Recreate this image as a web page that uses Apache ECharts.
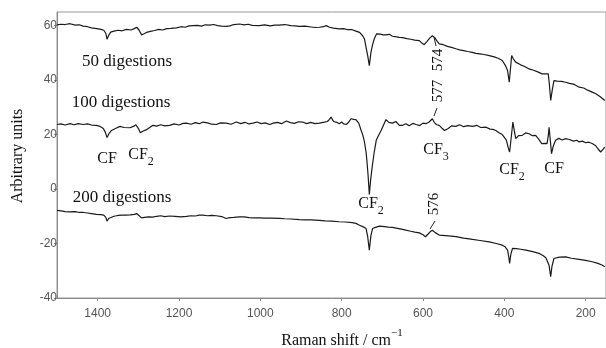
<!DOCTYPE html>
<html>
<head>
<meta charset="utf-8">
<script src="https://cdn.jsdelivr.net/npm/echarts@6/dist/echarts.min.js"></script>
<style>
html,body{margin:0;padding:0;background:#fff;}
#chart{width:606px;height:348px;}
</style>
</head>
<body>
<div id="chart"></div>
<script>
// ---- data (Raman shift in cm-1, arbitrary units) ----
var xTicks = [1400, 1200, 1000, 800, 600, 400, 200];
var yTicks = [-40, -20, 0, 20, 40, 60];

var wn50 = [1500,1490,1480,1468,1455,1445,1436,1425,1415,1402,1392,1385,1380,1377,1373,1368,1360,1350,1340,1329,1318,1310,1304,1298,1292,1286,1280,1270,1260,1250,1240,1230,1220,1206,1195,1185,1175,1166,1155,1145,1135,1125,1115,1105,1095,1084,1075,1065,1051,1040,1030,1020,1002,990,975,965,953,940,925,915,904,890,875,865,855,845,838,830,820,806,795,785,774,765,756,748,744,740,736,732,728,724,720,714,705,698,691,683,675,665,658,650,640,630,620,609,602,597,590,583,577,571,565,560,550,540,530,519,510,500,490,479,470,460,450,437,425,415,405,398,392,388,385,382,378,372,360,350,339,328,318,307,298,292,289,286,282,278,270,260,249,240,228,216,205,195,184,175,165,153];
var val50 = [60.3,60.5,60.4,60.7,60.2,60.3,59.8,59.6,59.2,58.9,58.6,58.3,57.2,55.0,56.4,57.6,58.0,58.3,58.1,58.6,58.4,58.9,59.4,58.3,56.6,57.0,57.5,57.9,58.2,58.6,58.4,58.9,59.0,59.2,59.6,59.4,59.9,60.0,60.1,59.8,60.3,60.2,60.4,60.0,59.8,59.7,59.9,60.4,60.6,60.3,60.5,60.1,60.0,60.3,59.9,60.2,60.2,60.4,60.0,59.9,59.7,59.8,59.5,59.3,59.4,59.6,60.0,59.4,59.1,58.8,58.9,58.5,58.5,58.0,57.5,56.2,55.1,52.0,49.0,45.3,50.2,53.0,55.1,57.0,56.9,56.6,56.6,56.8,56.1,55.9,55.7,55.6,55.2,55.0,54.7,54.5,53.5,53.0,54.2,55.5,56.3,55.6,54.2,53.3,53.0,52.4,52.0,51.5,51.1,50.8,50.5,50.2,49.8,49.6,49.4,49.0,48.5,48.0,47.2,45.5,43.5,39.2,44.0,49.0,47.8,46.6,45.6,45.0,44.1,43.6,43.0,42.3,42.3,42.3,38.0,32.5,36.5,39.8,39.6,39.5,39.2,38.8,38.4,37.4,37.1,36.3,35.6,35.0,34.0,32.5];

var wn100 = [1500,1490,1480,1468,1458,1448,1435,1425,1415,1403,1394,1386,1381,1377,1372,1366,1355,1345,1335,1321,1312,1306,1303,1299,1295,1288,1280,1272,1264,1255,1245,1235,1223,1212,1200,1190,1182,1170,1160,1150,1141,1130,1120,1108,1098,1084,1072,1059,1048,1038,1028,1018,1008,998,988,977,968,958,948,936,926,916,906,896,886,876,866,855,845,835,830,826,820,812,806,800,795,789,783,777,770,765,758,752,748,744,740,738,735,732,729,725,720,715,710,703,697,691,684,675,667,658,650,642,634,625,617,608,600,593,585,577,572,566,560,553,547,543,538,530,519,510,500,490,478,468,458,445,435,428,421,412,405,401,395,391,387,383,379,375,372,365,356,348,339,331,323,316,308,300,295,292,290,287,284,280,274,266,258,249,240,230,222,216,208,200,192,184,176,170,163,158,153];
var val100 = [23.7,23.9,23.5,24.0,23.6,24.0,23.7,23.9,23.5,23.4,23.0,22.2,20.8,18.9,20.4,21.5,22.3,23.0,22.6,22.5,23.0,23.6,24.0,22.0,20.7,21.3,21.8,22.6,23.4,23.1,23.6,23.2,23.4,23.9,23.5,24.1,24.2,23.8,24.4,24.0,24.6,24.3,23.8,23.7,24.3,24.2,23.8,24.6,24.0,24.5,23.9,24.2,24.6,24.0,24.3,23.7,24.2,24.5,24.0,25.0,24.4,24.1,24.7,24.6,24.0,24.5,24.0,24.2,24.5,24.8,25.6,26.4,24.8,24.5,24.0,24.6,23.9,23.7,24.5,25.8,25.6,25.5,24.2,21.5,19.8,17.3,13.5,10.5,5.0,-2.0,3.0,8.1,13.5,17.9,19.5,21.5,23.5,25.5,24.5,24.2,24.8,23.4,23.4,24.0,23.2,24.1,23.7,23.3,24.2,24.0,24.6,25.8,24.4,23.6,23.4,22.3,21.5,20.9,22.2,23.2,23.0,23.6,22.9,23.3,23.0,23.4,22.6,22.7,22.0,21.9,21.5,20.6,20.0,19.7,18.0,15.5,13.6,19.0,24.6,21.0,18.5,19.6,19.7,20.6,20.3,19.6,19.7,18.4,16.7,16.8,16.7,19.5,22.7,18.0,13.0,15.6,17.9,18.6,18.0,18.5,18.2,17.6,17.9,17.3,17.6,17.0,17.2,16.7,16.0,14.8,13.6,14.5,15.4];

var wn200 = [1500,1490,1480,1468,1455,1445,1435,1425,1415,1403,1392,1385,1380,1377,1373,1370,1360,1350,1340,1330,1320,1310,1304,1298,1292,1285,1275,1265,1255,1245,1235,1223,1210,1195,1182,1170,1160,1150,1141,1130,1120,1108,1095,1084,1075,1065,1051,1040,1028,1015,1002,990,975,953,940,925,904,890,875,855,840,825,806,790,774,765,756,748,740,736,732,728,724,715,707,695,685,675,660,650,642,630,620,609,600,594,588,582,577,570,560,545,530,519,500,478,460,437,420,405,398,392,389,387,384,380,370,360,347,330,315,305,298,294,290,286,283,278,265,249,235,216,200,184,170,160,153];
var val200 = [-7.8,-8.0,-8.3,-8.4,-8.3,-8.6,-8.6,-8.8,-9.0,-9.3,-9.4,-9.6,-10.4,-11.8,-10.8,-10.2,-10.0,-9.7,-9.6,-9.6,-9.5,-9.3,-9.0,-9.8,-10.6,-10.4,-10.2,-10.3,-10.0,-9.8,-10.1,-9.9,-10.0,-10.2,-10.0,-9.8,-9.9,-9.6,-9.6,-9.8,-9.7,-9.8,-10.1,-10.8,-10.5,-10.4,-10.2,-10.2,-10.5,-10.6,-10.6,-10.7,-10.7,-10.8,-10.9,-11.0,-11.2,-11.3,-11.3,-11.5,-11.7,-11.8,-12.0,-12.1,-12.3,-12.6,-13.3,-13.8,-14.5,-17.5,-22.4,-17.0,-14.5,-14.0,-13.6,-13.8,-14.0,-14.1,-14.5,-14.8,-15.1,-15.5,-15.8,-16.1,-16.8,-17.5,-16.6,-15.6,-15.1,-16.0,-16.9,-17.1,-17.3,-17.5,-18.0,-18.5,-18.9,-19.4,-20.0,-20.6,-21.2,-22.4,-25.0,-27.3,-24.0,-21.8,-21.9,-22.1,-22.4,-23.0,-23.6,-24.4,-25.2,-25.5,-28.0,-32.2,-28.5,-25.5,-25.0,-24.9,-25.4,-25.8,-26.2,-26.7,-27.3,-27.9,-28.5];

function pairs(xs, ys){ return xs.map(function(x,i){ return [x, ys[i]]; }); }

var serif = '"Liberation Serif", "DejaVu Serif", serif';
var sans = '"Liberation Sans", Arial, sans-serif';

function txt(x, y, s, size, rot){
  return {type:'text', x:x, y:y, rotation: rot||0, silent:true,
    style:{text:s, font: (size||16)+'px '+serif, fill:'#111', align:'center', verticalAlign:'middle'}};
}
function chem(x, y, base, sub){
  return {type:'text', x:x, y:y, silent:true,
    style:{text:'{a|'+base+'}{s|'+sub+'}', align:'center', verticalAlign:'middle',
      rich:{a:{fontFamily:serif, fontSize:16, fill:'#111', verticalAlign:'top', lineHeight:21},
            s:{fontFamily:serif, fontSize:12, fill:'#111', verticalAlign:'bottom', lineHeight:12}}}};
}
function seg(x1,y1,x2,y2){
  return {type:'line', silent:true, shape:{x1:x1,y1:y1,x2:x2,y2:y2}, style:{stroke:'#222', lineWidth:1}};
}

var chart = echarts.init(document.getElementById('chart'), null, {renderer:'canvas'});
var lineStyle = {color:'#1a1a1a', width:1.2};
chart.setOption({
  backgroundColor:'#ffffff',
  animation:false,
  grid:{left:57, top:12, width:550, height:286, show:true, borderColor:'#9a9a9a', borderWidth:1},
  xAxis:{type:'value', inverse:true, min:150, max:1500,
    axisLine:{show:true, onZero:false, lineStyle:{color:'#8a8a8a'}},
    axisTick:{show:true, length:3, customValues:xTicks, lineStyle:{color:'#8a8a8a'}},
    axisLabel:{customValues:xTicks, color:'#555', fontFamily:sans, fontSize:12, margin:10,
      formatter:function(v){ return String(v); }},
    splitLine:{show:false}},
  yAxis:{type:'value', min:-40, max:65,
    axisLine:{show:true, onZero:false, lineStyle:{color:'#8a8a8a'}},
    axisTick:{show:true, length:3, customValues:yTicks, lineStyle:{color:'#8a8a8a'}},
    axisLabel:{customValues:yTicks, color:'#555', fontFamily:sans, fontSize:12, margin:0,
      formatter:function(v){ return String(v); }},
    splitLine:{show:false}},
  series:[
    {type:'line', name:'50 digestions', data:pairs(wn50,val50), showSymbol:false, lineStyle:lineStyle, silent:true},
    {type:'line', name:'100 digestions', data:pairs(wn100,val100), showSymbol:false, lineStyle:lineStyle, silent:true},
    {type:'line', name:'200 digestions', data:pairs(wn200,val200), showSymbol:false, lineStyle:lineStyle, silent:true}
  ],
  graphic:[
    txt(127, 62, '50 digestions', 17),
    txt(121, 103, '100 digestions', 17),
    txt(122, 198, '200 digestions', 17),
    txt(107, 159, 'CF'),
    chem(141, 157, 'CF', '2'),
    chem(371, 206, 'CF', '2'),
    chem(436, 152, 'CF', '3'),
    chem(512, 172, 'CF', '2'),
    txt(554, 169, 'CF'),
    txt(438, 60, '574', 15, Math.PI/2),
    txt(438, 91, '577', 15, Math.PI/2),
    txt(434, 204, '576', 15, Math.PI/2),
    seg(434, 37, 436, 46),
    seg(434, 116, 437, 108),
    seg(430, 229, 435, 221),
    txt(18, 156, 'Arbitrary units', 16, Math.PI/2),
    {type:'text', x:342, y:338, silent:true,
      style:{text:'{b|Raman shift / cm}{p|\u22121}', align:'center', verticalAlign:'middle',
        rich:{b:{fontFamily:serif, fontSize:16, fill:'#111', verticalAlign:'bottom', lineHeight:21},
              p:{fontFamily:serif, fontSize:11, fill:'#111', verticalAlign:'top', lineHeight:11}}}}
  ]
});
</script>
</body>
</html>
